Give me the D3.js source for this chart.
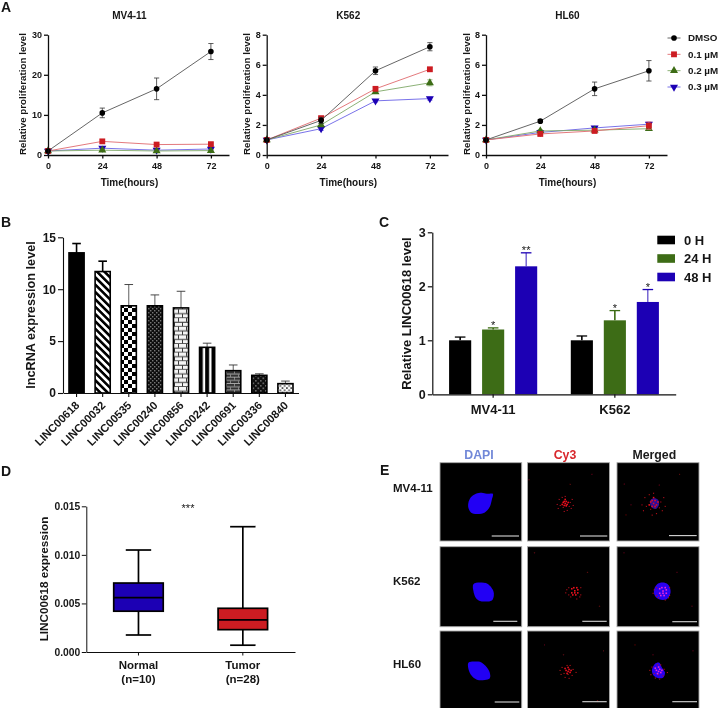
<!DOCTYPE html>
<html><head><meta charset="utf-8">
<script src="https://cdn.jsdelivr.net/npm/d3@7/dist/d3.min.js"></script>
<style>
html,body{margin:0;padding:0;background:#fff}
svg{display:block}
text{font-family:"Liberation Sans",Arial,sans-serif;font-weight:700;fill:#151515}
</style></head><body><svg id="c" width="720" height="708"></svg>
<script>
// ---------- Panel A data
const hours=[0,24,48,72];
const doseLabels=["DMSO","0.1 µM","0.2 µM","0.3 µM"];
const mvDMSO=[1,10.5,16.5,25.8], mvDMSOerr=[0.1,1.2,2.7,2.0];
const mv01=[1,3.4,2.6,2.7], mv01err=[0.2,0.4,0.3,0.3];
const mv02=[1,1.2,1.0,1.1], mv02err=[0.1,0.2,0.2,0.2];
const mv03=[1,1.7,1.2,1.5], mv03err=[0.1,0.3,0.2,0.3];
const kDMSO=[1,2.3,5.6,7.2], kDMSOerr=[0.02,0.2,0.25,0.27];
const k01=[1,2.45,4.4,5.7], k01err=[0.02,0.12,0.1,0.12];
const k02=[1,2.0,4.2,4.8], k02err=[0.02,0.1,0.1,0.2];
const k03=[1,1.75,3.6,3.75], k03err=[0.02,0.12,0.08,0.1];
const hDMSO=[1,2.25,4.4,5.6], hDMSOerr=[0.02,0.1,0.45,0.68];
const h01=[1,1.4,1.6,1.95], h01err=[0.05,0.1,0.1,0.25];
const h02=[1,1.6,1.65,1.75], h02err=[0.05,0.08,0.08,0.1];
const h03=[1,1.5,1.8,2.05], h03err=[0.05,0.08,0.08,0.1];
// ---------- Panel B data
const lncNames=["LINC00618","LINC00032","LINC00535","LINC00240","LINC00856","LINC00242","LINC00691","LINC00336","LINC00840"];
const lncMeans=[13.5,11.7,8.4,8.4,8.2,4.4,2.15,1.7,0.9];
const lncTops=[14.4,12.7,10.45,9.45,9.8,4.8,2.7,1.85,1.15];
// ---------- Panel C data
const cGroups=["MV4-11","K562"];
const cTimes=["0 H","24 H","48 H"];
const cMV=[1,1.2,2.37], cMVtop=[1.06,1.23,2.62];
const cK=[1,1.37,1.71], cKtop=[1.08,1.55,1.94];
const cMVstars=["","*","**"], cKstars=["","*","*"];
// ---------- Panel D data
const boxNames=["Normal","Tumor"], boxN=["(n=10)","(n=28)"];
const boxMin=[0.00175,0.0007], boxQ1=[0.0042,0.0023], boxMed=[0.0056,0.0033], boxQ3=[0.0071,0.0045], boxMax=[0.0105,0.0129];
// ---------- Panel E data (field units from the panel's top-left corner)
const rowNames=["MV4-11","K562","HL60"];
const colNames=["DAPI","Cy3","Merged"];
const nucleus1=[[28.5,40],[31,34.5],[36,31],[42,30],[47,31],[53,31],[52,37],[50,44],[45,49.5],[37,51],[31,49.5],[28.5,45]];
const nucleus2=[[33.5,36.5],[40,35],[46,35.5],[50,38],[53.5,43],[54,48],[52,52.5],[46,53.5],[40,53],[36,50],[33.5,43]];
const nucleus3=[[28.5,32],[34,30.7],[40,31],[44,33.5],[48,38],[50,42],[50,47.5],[45,49.3],[37,49],[31,44],[28.5,38]];
const merged1=[[33,38],[37,35.5],[41,37],[42,42],[39,46],[35,45]];
const merged2=[[37,42],[41,36],[47,35],[52,38],[53.5,45],[50,51],[43,51.5],[38,48]];
const merged3=[[35,39],[38,33],[42,31.7],[45,37],[48,42],[46,47],[40,47],[36,44]];
const core1=[[0,0],[-2,-1],[1,-2],[2,1],[-1,2],[-3,1],[0,-4],[3,-1],[-1,-2],[1,2]];
const core2=[[-3,-3],[-1,-4],[2,-4],[3,-2],[3,1],[1,3],[-2,3],[-3,1],[0,-1],[0,1]];
const core3=[[0,0],[-2,-1],[1,-2],[2,1],[-1,2],[-3,-3],[3,-1],[0,-4]];
const spots1=[[-5,2],[1,3],[5,-1],[-2,4],[4,3],[0,-7],[-8,1],[7,-4],[-3,-6],[2,7],[8,2],[6,5],[-6,-4],[-1,8],[-7,5]];
const spots2=[[-8,-2],[-6,3],[6,-4],[6,3],[2,7],[-4,5],[-6,-4],[5,5],[-9,1]];
const spots3=[[-4,2],[0,3],[-1,-6],[-6,-4],[5,-2],[8,1],[-7,3],[1,7],[-3,6],[-8,-1],[4,4],[2,-6]];
const faint1=[[64.4,11.6],[42.7,21.6],[1.5,17]];
const faint2=[[7,6],[60,25],[72,58]];
const faint3=[[17,14],[36,24],[76,20],[70,70]];
const faintM1=[[62.6,11.6],[42.3,22.3],[7.3,21.3],[14,42],[9,52]];
const faintM2=[[7,6],[60,25],[75,58]];
const faintM3=[[18,14],[36,24],[76,20]];

const svg=d3.select("#c");
const defs=svg.append("defs");
defs.append("filter").attr("id","soft").attr("x","-2%").attr("y","-2%").attr("width","104%").attr("height","104%")
  .append("feGaussianBlur").attr("stdDeviation",0.38);
const root=svg.append("g").attr("filter","url(#soft)");
root.append("rect").attr("width",720).attr("height",708).attr("fill","#fff");

const COL={k:"#000",r:"#cc1a20",g:"#3c6c14",b:"#1c00b4"};
const LINE={k:"#555",r:"#e06a6e",g:"#7fa868",b:"#6a62e6"};
function styleAxis(g,w,fs){
  g.selectAll("path.domain").attr("stroke","#111").attr("stroke-width",w);
  g.selectAll(".tick line").attr("stroke","#111").attr("stroke-width",w);
  g.selectAll(".tick text").attr("font-size",fs).style("font-family",'"Liberation Sans",Arial,sans-serif').style("font-weight",700).attr("fill","#151515");
}
function label(t,x,y,fs,anchor,rot,col){
  const e=root.append("text").text(t).attr("x",x).attr("y",y).attr("font-size",fs).attr("text-anchor",anchor||"middle");
  if(rot!=null)e.attr("transform",`rotate(${rot} ${x} ${y})`);
  if(col)e.style("fill",col);
  return e;
}
// ---------- Panel A
const symGen={
  k:d3.symbol(d3.symbolCircle,25)(),
  r:d3.symbol(d3.symbolSquare,34)(),
  g:d3.symbol(d3.symbolTriangle,28)(),
  b:d3.symbol(d3.symbolTriangle,28)()
};
function marker(g,k,x,y){
  g.append("path").attr("d",symGen[k]).attr("fill",COL[k])
   .attr("transform",`translate(${x},${y})`+(k==="b"?" rotate(180)":""));
}
function linePanel(x0,xEnd,yMax,yTicks,title,labelX,series){
  const x=d3.scaleLinear().domain([0,80]).range([x0,xEnd]);
  const y=d3.scaleLinear().domain([0,yMax]).range([155,34.7]);
  const g=root.append("g");
  const ln=d3.line().x((d,i)=>x(hours[i])).y(d=>y(d));
  series.forEach(s=>{
    g.append("path").attr("d",ln(s.v)).attr("fill","none").attr("stroke",LINE[s.k]).attr("stroke-width",0.9);
    s.v.forEach((v,i)=>{
      const px=x(hours[i]),t=y(v+s.e[i]),b=y(Math.max(0,v-s.e[i]));
      g.append("path").attr("d",d3.line()([[px,t],[px,b]])).attr("stroke",s.k==="k"?"#333":LINE[s.k]).attr("stroke-width",0.8);
      [t,b].forEach(q=>g.append("path").attr("d",d3.line()([[px-2.6,q],[px+2.6,q]])).attr("stroke",s.k==="k"?"#333":LINE[s.k]).attr("stroke-width",0.8));
      marker(g,s.k,px,y(v));
    });
  });
  const ax=root.append("g").attr("transform","translate(0,155)").call(d3.axisBottom(x).tickValues(hours).tickSize(3.5).tickPadding(4).tickSizeOuter(0));
  styleAxis(ax,1.3,9);
  const ay=root.append("g").attr("transform",`translate(${x0},0)`).call(d3.axisLeft(y).tickValues(yTicks).tickSize(4).tickPadding(2).tickSizeOuter(0));
  styleAxis(ay,1.3,9);
  label("Time(hours)",x(36),185.5,10);
  label("Relative proliferation level",labelX,94,9.8,"middle",-90);
  label(title,x(36),19,10);
}
linePanel(48,229,30,[0,10,20,30],"MV4-11",26,[{k:"b",v:mv03,e:mv03err},{k:"g",v:mv02,e:mv02err},{k:"r",v:mv01,e:mv01err},{k:"k",v:mvDMSO,e:mvDMSOerr}]);
linePanel(266.7,448,8,[0,2,4,6,8],"K562",249.5,[{k:"b",v:k03,e:k03err},{k:"g",v:k02,e:k02err},{k:"r",v:k01,e:k01err},{k:"k",v:kDMSO,e:kDMSOerr}]);
linePanel(486,667,8,[0,2,4,6,8],"HL60",469.5,[{k:"b",v:h03,e:h03err},{k:"g",v:h02,e:h02err},{k:"r",v:h01,e:h01err},{k:"k",v:hDMSO,e:hDMSOerr}]);
["k","r","g","b"].forEach((k,i)=>{
  const ly=d3.scalePoint().domain(doseLabels).range([38,87]);
  const yy=ly(doseLabels[i]);
  root.append("path").attr("d",d3.line()([[667.5,yy],[680.5,yy]])).attr("stroke",LINE[k]).attr("stroke-width",0.9);
  marker(root,k,674,yy);
  label(doseLabels[i],688,yy+3.4,9.8,"start");
});
// ---------- Panel B patterns
function pat(id,w,h,bg,draw,tf){
  const p=defs.append("pattern").attr("id",id).attr("patternUnits","userSpaceOnUse").attr("width",w).attr("height",h);
  if(tf)p.attr("patternTransform",tf);
  p.append("rect").attr("width",w).attr("height",h).attr("fill",bg);
  draw(p);
}
const r=(p,x,y,w,h,c)=>p.append("rect").attr("x",x).attr("y",y).attr("width",w).attr("height",h).attr("fill",c);
pat("p0",4,4,"#000",()=>{});
pat("p1",5.2,5.2,"#fff",p=>r(p,0,0,2.6,5.2,"#000"),"rotate(-45)");
pat("p2",8,8,"#fff",p=>{r(p,0,0,4,4,"#000");r(p,4,4,4,4,"#000");});
pat("p3",4,4,"#111",p=>{r(p,0,0,1.4,1.4,"#777");r(p,2,2,1.4,1.4,"#777");});
pat("p4",8,8.6,"#f4f4f4",p=>{r(p,0,3.6,8,0.9,"#222");r(p,0,7.9,8,0.9,"#222");r(p,2,0,0.9,3.6,"#222");r(p,6,4.3,0.9,3.6,"#222");});
pat("p5",6.3,6,"#000",p=>r(p,1.2,0,2.4,6,"#fff"));
pat("p6",8,6.4,"#333",p=>{r(p,0,2.4,8,0.8,"#bbb");r(p,0,5.6,8,0.8,"#bbb");r(p,2,0,0.8,2.4,"#999");r(p,6,3.2,0.8,2.4,"#999");});
pat("p7",5,5,"#111",p=>{r(p,0,0,1.6,1.6,"#666");r(p,2.5,2.5,1.6,1.6,"#666");});
pat("p8",4.4,4.4,"#fff",p=>{r(p,0,0,1.8,1.8,"#555");r(p,2.2,2.2,1.8,1.8,"#555");});
const bx=d3.scaleBand().domain(lncNames).range([63.5,298.5]).paddingInner(0.36).paddingOuter(0.18);
const by=d3.scaleLinear().domain([0,15]).range([393,237.3]);
lncNames.forEach((n,i)=>{
  const cx=bx(n)+bx.bandwidth()/2, sw=i<2?1.6:0.8;
  root.append("path").attr("d",d3.line()([[cx,by(lncMeans[i])],[cx,by(lncTops[i])]])).attr("stroke",i<2?"#000":"#333").attr("stroke-width",sw);
  root.append("path").attr("d",d3.line()([[cx-4.3,by(lncTops[i])],[cx+4.3,by(lncTops[i])]])).attr("stroke",i<2?"#000":"#333").attr("stroke-width",i<2?1.6:0.9);
  root.append("rect").attr("x",bx(n)+0.8).attr("y",by(lncMeans[i])).attr("width",bx.bandwidth()-1.6).attr("height",by(0)-by(lncMeans[i]))
    .attr("fill",`url(#p${i})`).attr("stroke","#000").attr("stroke-width",1.6);
});
const bax=root.append("g").attr("transform","translate(0,393)").call(d3.axisBottom(bx).tickSize(4).tickSizeOuter(0).tickFormat(""));
styleAxis(bax,1.1,11);
const bay=root.append("g").attr("transform","translate(63,0)").call(d3.axisLeft(by).tickValues([0,5,10,15]).tickSize(5).tickPadding(2).tickSizeOuter(0));
styleAxis(bay,1.1,12);
lncNames.forEach(n=>label(n,bx(n)+bx.bandwidth()/2+3.5,406,11.2,"end",-45));
label("lncRNA expression level",35,315,12.7,"middle",-90);
// ---------- Panel C
const cx0=d3.scaleBand().domain(cGroups).range([432.3,675.7]);
const cx1=d3.scaleBand().domain(cTimes).range([-49.5,49.5]).paddingInner(0.33).paddingOuter(0.165);
const cy=d3.scaleLinear().domain([0,3]).range([394.3,232.3]);
const cCols=[COL.k,COL.g,COL.b];
[[cMV,cMVtop,cMVstars],[cK,cKtop,cKstars]].forEach((d,gi)=>{
  const center=cx0(cGroups[gi])+cx0.bandwidth()/2;
  cTimes.forEach((t,i)=>{
    const x=center+cx1(t),w=cx1.bandwidth(),m=x+w/2,c=cCols[i];
    root.append("path").attr("d",d3.line()([[m,cy(d[0][i])],[m,cy(d[1][i])]])).attr("stroke",c).attr("stroke-width",i==0?1.6:(i==1?1.6:0.9));
    root.append("path").attr("d",d3.line()([[m-5.3,cy(d[1][i])],[m+5.3,cy(d[1][i])]])).attr("stroke",c).attr("stroke-width",1.3);
    root.append("rect").attr("x",x).attr("y",cy(d[0][i])).attr("width",w).attr("height",cy(0)-cy(d[0][i])).attr("fill",c);
    if(d[2][i])label(d[2][i],m,cy(d[1][i])+1.5,11,"middle").style("font-weight",400);
  });
});
const cax=root.append("g").attr("transform","translate(0,394.3)").call(d3.axisBottom(cx0).tickSize(3.5).tickPadding(5).tickSizeOuter(0));
styleAxis(cax,1.2,13);
cax.selectAll(".tick text").attr("dy","0.87em");
const cay=root.append("g").attr("transform","translate(432.3,0)").call(d3.axisLeft(cy).tickValues([0,1,2,3]).tickFormat(d3.format("d")).tickSize(4.5).tickPadding(2).tickSizeOuter(0));
styleAxis(cay,1.2,12.5);
label("Relative LINC00618 level",411,313.5,13,"middle",-90);
const cLeg=d3.scalePoint().domain(cTimes).range([240,277]);
cTimes.forEach((t,i)=>{
  root.append("rect").attr("x",657.3).attr("y",cLeg(t)-4.3).attr("width",17.7).attr("height",8.6).attr("fill",cCols[i]);
  label(t,684,cLeg(t)+4.6,13,"start");
});
// ---------- Panel D
const dx=d3.scaleBand().domain(boxNames).range([86.3,295]);
const dy=d3.scaleLinear().domain([0,0.015]).range([652,506.3]);
const dCols=[COL.b,COL.r];
boxNames.forEach((n,i)=>{
  const c=dx(n)+dx.bandwidth()/2,w=49.5;
  const sw=1.7;
  root.append("path").attr("d",d3.line()([[c,dy(boxMin[i])],[c,dy(boxMax[i])]])).attr("stroke","#000").attr("stroke-width",sw);
  [boxMin[i],boxMax[i]].forEach(v=>root.append("path").attr("d",d3.line()([[c-12.7,dy(v)],[c+12.7,dy(v)]])).attr("stroke","#000").attr("stroke-width",sw));
  root.append("rect").attr("x",c-w/2).attr("y",dy(boxQ3[i])).attr("width",w).attr("height",dy(boxQ1[i])-dy(boxQ3[i])).attr("fill",dCols[i]).attr("stroke","#000").attr("stroke-width",sw);
  root.append("path").attr("d",d3.line()([[c-w/2,dy(boxMed[i])],[c+w/2,dy(boxMed[i])]])).attr("stroke","#000").attr("stroke-width",sw);
  label(n,c,669,11.5);
  label(boxN[i],c,683,11.5);
});
const dax=root.append("g").attr("transform","translate(0,652)").call(d3.axisBottom(dx).tickSize(3.5).tickSizeOuter(0).tickFormat(""));
styleAxis(dax,1,11);
const day=root.append("g").attr("transform","translate(86.3,0)").call(d3.axisLeft(dy).tickValues([0,0.005,0.01,0.015]).tickFormat(d3.format(".3f")).tickSize(4.5).tickPadding(1.5).tickSizeOuter(0));
styleAxis(day,1,10.3);
label("LINC00618 expression",48,579,11.7,"middle",-90);
label("***",188,512,11).style("font-weight",400);
// ---------- Panel E
const panelX=[[440,521.7],[527.5,609.5],[617,699]];
const panelY=[[462.7,541],[546.7,626.7],[631,708.5]];
const headerX=[479,565,654.3];
const headerCol=["#7188d8","#d8262c","#1a1a1a"];
const scaleBars=[[[491.7,519,536],[580,607.3,536],[669,696.7,535.6]],[[493.3,517.3,621.3],[582.3,606.7,621.3],[672.3,697,621.7]],[[494.7,519.3,702],[582.3,606.7,701.7],[672.3,697,701.7]]];
const nuclei=[nucleus1,nucleus2,nucleus3], mergedN=[merged1,merged2,merged3];
const cores=[core1,core2,core3], spots=[spots1,spots2,spots3], faints=[faint1,faint2,faint3], faintsM=[faintM1,faintM2,faintM3];
const spotC=[[37.7,40.6],[47.3,44],[40.6,40.7]], spotM=[[36.6,40.6],[46,44.3],[41.6,40.7]];
const mergedSpread=[1.45,1.1,1.1];
const blobLine=d3.line().curve(d3.curveCatmullRomClosed);
rowNames.forEach((rn,ri)=>{
  colNames.forEach((cn,ci)=>{
    const sx=d3.scaleLinear().domain([0,82]).range(panelX[ci]);
    const sy=d3.scaleLinear().domain([0,78]).range([panelY[ri][0],panelY[ri][1]]);
    const g=root.append("g");
    g.append("rect").attr("x",panelX[ci][0]).attr("y",panelY[ri][0]).attr("width",panelX[ci][1]-panelX[ci][0]).attr("height",panelY[ri][1]-panelY[ri][0]).attr("fill","#000").attr("stroke","#a8a8a8").attr("stroke-width",0.9);
    if(ci===0) g.append("path").attr("d",blobLine(nuclei[ri].map(p=>[sx(p[0]),sy(p[1])]))).attr("fill","#2000f4");
    if(ci===2) g.append("path").attr("d",blobLine(mergedN[ri].map(p=>[sx(p[0]),sy(p[1])]))).attr("fill",ri===0?"#2a10a0":"#2a00f0");
    if(ci>0){
      const ctr=ci===1?spotC[ri]:spotM[ri];
      const k=ci===2?mergedSpread[ri]:1;
      const hot=(ci===2&&ri>0);
      const dot=(p,s,c)=>g.append("rect").attr("x",sx(ctr[0]+k*p[0])-s/2).attr("y",sy(ctr[1]+k*p[1])-s/2).attr("width",s).attr("height",s).attr("fill",c);
      spots[ri].forEach(p=>dot(p,1.1,"#b8101a"));
      cores[ri].forEach(p=>dot(p,1.6,hot?"#e828d8":"#e8101c"));
      (ci===1?faints:faintsM)[ri].forEach(p=>g.append("rect").attr("x",sx(p[0])-0.6).attr("y",sy(p[1])-0.6).attr("width",1.2).attr("height",1.2).attr("fill","#5a0a10"));
    }
    const b=scaleBars[ri][ci];
    g.append("path").attr("d",d3.line()([[b[0],b[2]],[b[1],b[2]]])).attr("stroke","#d8d8d8").attr("stroke-width",1.1);
    if(ri===0) label(cn,headerX[ci],458.5,12.3,"middle",null,headerCol[ci]);
  });
});
label("MV4-11",393,492,11.5,"start");
label("K562",393,585,11.5,"start");
label("HL60",393,668,11.5,"start");
// ---------- Panel letters
label("A",1,12,14,"start");
label("B",1,226.5,14,"start");
label("C",379,226.5,14,"start");
label("D",1,476,14,"start");
label("E",380,475,14,"start");
</script></body></html>
